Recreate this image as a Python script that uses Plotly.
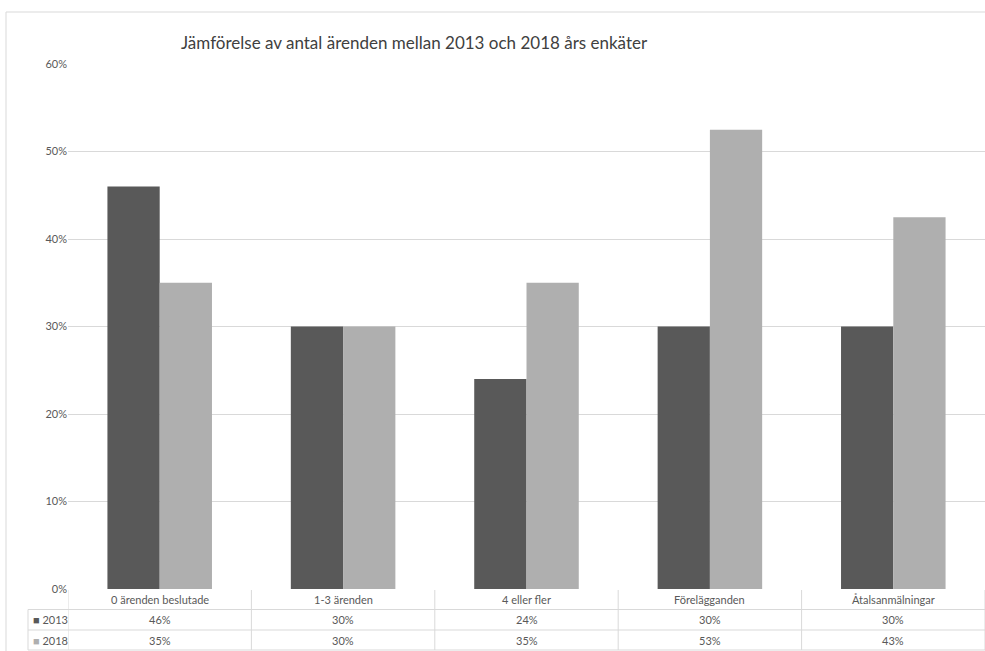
import plotly.graph_objects as go

categories = ["0 ärenden beslutade", "1-3 ärenden", "4 eller fler", "Förelägganden", "Åtalsanmälningar"]
series_names = ["2013", "2018"]
values_2013 = [46, 30, 24, 30, 30]
values_2018 = [35, 30, 35, 52.5, 42.5]
tick_vals = [0, 10, 20, 30, 40, 50, 60]
tick_text = ["0%", "10%", "20%", "30%", "40%", "50%", "60%"]

colors = ["#595959", "#afafaf"]
FONT = "Lato, Open Sans, sans-serif"
TXT = "#595959"

W, H = 985, 651
L, R, T, B = 68, 0, 64, 62
plot_h = H - T - B
def py(pix):
    return (H - B - pix) / plot_h
def px(pix):
    return (pix - L) / (W - L - R)

fig = go.Figure()
for name, vals, c in zip(series_names, [values_2013, values_2018], colors):
    fig.add_trace(go.Bar(x=list(range(len(categories))), y=vals, name=name,
                         marker=dict(color=c, line=dict(width=0)), showlegend=False))

shapes = []
annots = []
line_c = "#d9d9d9"
r0, r1, r2, r3 = 590, 609.5, 630, 650
n = len(categories)
shapes.append(dict(type="line", xref="x", yref="paper", x0=-0.5, x1=n - 0.5, y0=py(r1), y1=py(r1), line=dict(color=line_c, width=1)))
for ry in [r2, r3]:
    shapes.append(dict(type="line", xref="paper", yref="paper", x0=px(28), x1=1, y0=py(ry), y1=py(ry), line=dict(color=line_c, width=1)))
shapes.append(dict(type="line", xref="paper", yref="paper", x0=px(28), x1=0, y0=py(r1), y1=py(r1), line=dict(color=line_c, width=1)))
for i in range(n + 1):
    shapes.append(dict(type="line", xref="x", yref="paper", x0=i - 0.5, x1=i - 0.5, y0=py(r0), y1=py(r3), line=dict(color=line_c, width=1)))
shapes.append(dict(type="line", xref="paper", yref="paper", x0=px(28), x1=px(28), y0=py(r1), y1=py(r3), line=dict(color=line_c, width=1)))
shapes.append(dict(type="rect", xref="paper", yref="paper", x0=px(6), x1=px(995), y0=py(12), y1=py(660), line=dict(color="#d9d9d9", width=1)))

for i, cat in enumerate(categories):
    annots.append(dict(x=i, y=py((r0 + r1) / 2), xref="x", yref="paper", yanchor="middle", text=cat, showarrow=False,
                       font=dict(family=FONT, size=11, color=TXT)))
for row, (name, vals, c) in enumerate(zip(series_names, [values_2013, values_2018], colors)):
    yc = py([(r1 + r2) / 2, (r2 + r3) / 2][row])
    for i, v in enumerate(vals):
        annots.append(dict(x=i, y=yc, xref="x", yref="paper", yanchor="middle", text=f"{int(v + 0.5)}%", showarrow=False,
                           font=dict(family=FONT, size=11, color=TXT)))
    annots.append(dict(x=px(31), y=yc, xref="paper", yref="paper", xanchor="left", yanchor="middle", showarrow=False,
                       text=f"<span style='color:{c}'>■</span> {name}", font=dict(family=FONT, size=11, color=TXT)))

annots.append(dict(x=px(414), y=py(42), xref="paper", yref="paper", xanchor="center", yanchor="middle", showarrow=False,
                   text="Jämförelse av antal ärenden mellan 2013 och 2018 års enkäter",
                   font=dict(family=FONT, size=17, color="#404040")))

fig.update_layout(
    width=W, height=H, margin=dict(l=L, r=R, t=T, b=B),
    paper_bgcolor="white", plot_bgcolor="white",
    barmode="group", bargap=0.43, bargroupgap=0,
    shapes=shapes, annotations=annots,
    font=dict(family=FONT, color=TXT, size=11),
    xaxis=dict(range=[-0.5, n - 0.5], showticklabels=False, showgrid=False, zeroline=False,
               tickvals=list(range(n)), fixedrange=True),
    yaxis=dict(range=[0, 60], tickvals=tick_vals, ticktext=tick_text, showgrid=True,
               gridcolor="#d9d9d9", gridwidth=1, zeroline=False, ticks="", ticklen=0,
               tickfont=dict(family=FONT, size=11, color=TXT), fixedrange=True),
)
fig.write_html("out.html", config={"displayModeBar": False},
               post_script="document.body.style.margin='0';document.body.style.overflow='hidden';")
